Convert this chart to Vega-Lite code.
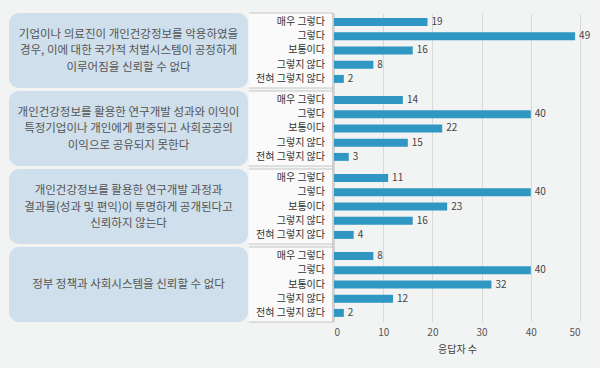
{
  "$schema": "https://vega.github.io/schema/vega-lite/v6.json",
  "background": "#f2f3f3",
  "padding": {"left": 9, "top": 12, "right": 30, "bottom": 30},
  "bounds": "flush",
  "config": {
    "font": "Noto Sans CJK KR",
    "view": {"stroke": null},
    "concat": {"spacing": 1}
  },
  "datasets": {
    "boxes": [
      {"group": "1", "lines": 3, "text": "기업이나 의료진이 개인건강정보를 악용하였을\n경우, 이에 대한 국가적 처벌시스템이 공정하게\n이루어짐을 신뢰할 수 없다"},
      {"group": "2", "lines": 3, "text": "개인건강정보를 활용한 연구개발 성과와 이익이\n특정기업이나 개인에게 편중되고 사회공공의\n이익으로 공유되지 못한다"},
      {"group": "3", "lines": 3, "text": "개인건강정보를 활용한 연구개발 과정과\n결과물(성과 및 편익)이 투명하게 공개된다고\n신뢰하지 않는다"},
      {"group": "4", "lines": 1, "text": "정부 정책과 사회시스템을 신뢰할 수 없다"}
    ],
    "bars": [
      {"group": "1", "cat": "매우 그렇다", "value": 19},
      {"group": "1", "cat": "그렇다", "value": 49},
      {"group": "1", "cat": "보통이다", "value": 16},
      {"group": "1", "cat": "그렇지 않다", "value": 8},
      {"group": "1", "cat": "전혀 그렇지 않다", "value": 2},
      {"group": "2", "cat": "매우 그렇다", "value": 14},
      {"group": "2", "cat": "그렇다", "value": 40},
      {"group": "2", "cat": "보통이다", "value": 22},
      {"group": "2", "cat": "그렇지 않다", "value": 15},
      {"group": "2", "cat": "전혀 그렇지 않다", "value": 3},
      {"group": "3", "cat": "매우 그렇다", "value": 11},
      {"group": "3", "cat": "그렇다", "value": 40},
      {"group": "3", "cat": "보통이다", "value": 23},
      {"group": "3", "cat": "그렇지 않다", "value": 16},
      {"group": "3", "cat": "전혀 그렇지 않다", "value": 4},
      {"group": "4", "cat": "매우 그렇다", "value": 8},
      {"group": "4", "cat": "그렇다", "value": 40},
      {"group": "4", "cat": "보통이다", "value": 32},
      {"group": "4", "cat": "그렇지 않다", "value": 12},
      {"group": "4", "cat": "전혀 그렇지 않다", "value": 2}
    ]
  },
  "hconcat": [
    {
      "width": 239,
      "height": 309,
      "data": {"name": "boxes"},
      "layer": [
        {
          "mark": {"type": "rect", "fill": "#cfdfec", "cornerRadius": 10},
          "encoding": {
            "y": {"field": "group", "type": "nominal", "scale": {"paddingInner": 0.0385, "paddingOuter": 0}, "axis": null},
            "x": {"datum": 0, "type": "quantitative", "scale": {"domain": [0, 1]}, "axis": null},
            "x2": {"datum": 1}
          }
        },
        {
          "transform": [{"filter": "datum.lines == 3"}],
          "mark": {"type": "text", "lineBreak": "\n", "fontSize": 11.5, "lineHeight": 16.5, "dy": -15.5, "color": "#555555", "align": "center", "baseline": "middle"},
          "encoding": {
            "y": {"field": "group", "type": "nominal", "axis": null},
            "x": {"datum": 0.5, "type": "quantitative"},
            "text": {"field": "text"}
          }
        },
        {
          "transform": [{"filter": "datum.lines == 1"}],
          "mark": {"type": "text", "fontSize": 11.5, "dy": 0.5, "color": "#555555", "align": "center", "baseline": "middle"},
          "encoding": {
            "y": {"field": "group", "type": "nominal", "axis": null},
            "x": {"datum": 0.5, "type": "quantitative"},
            "text": {"field": "text"}
          }
        }
      ]
    },
    {
      "width": 84,
      "height": 309,
      "layer": [
        {
          "data": {"name": "boxes"},
          "mark": {"type": "rect", "fill": "#fafafa"},
          "encoding": {
            "y": {"field": "group", "type": "nominal", "scale": {"paddingInner": 0.0385, "paddingOuter": 0}, "axis": null},
            "x": {"datum": 0, "type": "quantitative", "scale": {"domain": [0, 1]}, "axis": null},
            "x2": {"datum": 1}
          }
        },
        {
          "data": {"name": "boxes"},
          "mark": {"type": "rule", "color": "#c6c6c6", "strokeWidth": 1},
          "encoding": {
            "y": {"field": "group", "type": "nominal", "bandPosition": 0, "axis": null},
            "x": {"datum": 0, "type": "quantitative"},
            "x2": {"datum": 1}
          }
        },
        {
          "data": {"name": "boxes"},
          "mark": {"type": "rule", "color": "#c6c6c6", "strokeWidth": 1},
          "encoding": {
            "y": {"field": "group", "type": "nominal", "bandPosition": 1, "axis": null},
            "x": {"datum": 0, "type": "quantitative"},
            "x2": {"datum": 1}
          }
        },
        {
          "data": {"values": [{"edge": 1}]},
          "mark": {"type": "rule", "color": "#aaaaaa", "strokeWidth": 1},
          "encoding": {
            "x": {"field": "edge", "type": "quantitative"}
          }
        },
        {
          "data": {"name": "bars"},
          "mark": {"type": "text", "align": "right", "baseline": "middle", "dx": -8, "fontSize": 10, "color": "#333333"},
          "encoding": {
            "y": {"field": "group", "type": "nominal", "axis": null},
            "yOffset": {"field": "cat", "type": "nominal", "sort": ["매우 그렇다", "그렇다", "보통이다", "그렇지 않다", "전혀 그렇지 않다"], "scale": {"paddingInner": 0.44, "paddingOuter": 0.36}},
            "x": {"datum": 1, "type": "quantitative"},
            "text": {"field": "cat"}
          }
        }
      ]
    },
    {
      "width": 246,
      "height": 309,
      "data": {"name": "bars"},
      "encoding": {
        "y": {"field": "group", "type": "nominal", "scale": {"paddingInner": 0.0385, "paddingOuter": 0}, "axis": null},
        "yOffset": {"field": "cat", "type": "nominal", "sort": ["매우 그렇다", "그렇다", "보통이다", "그렇지 않다", "전혀 그렇지 않다"], "scale": {"paddingInner": 0.44, "paddingOuter": 0.36}},
        "x": {"field": "value", "type": "quantitative", "scale": {"domain": [0, 50], "nice": false},
          "axis": {"values": [0, 10, 20, 30, 40, 50], "grid": true, "gridColor": "#d9d9d9", "domain": false, "ticks": false,
            "labelFontSize": 10, "labelColor": "#555555", "labelPadding": 5, "title": "응답자 수", "titleFontSize": 10,
            "titleFontWeight": "normal", "titleColor": "#444444", "titlePadding": 7}}
      },
      "layer": [
        {"mark": {"type": "bar", "color": "#2f97c2"}},
        {"mark": {"type": "text", "align": "left", "baseline": "middle", "dx": 4, "fontSize": 10, "color": "#444444"},
          "encoding": {"text": {"field": "value", "type": "quantitative"}}}
      ]
    }
  ]
}
